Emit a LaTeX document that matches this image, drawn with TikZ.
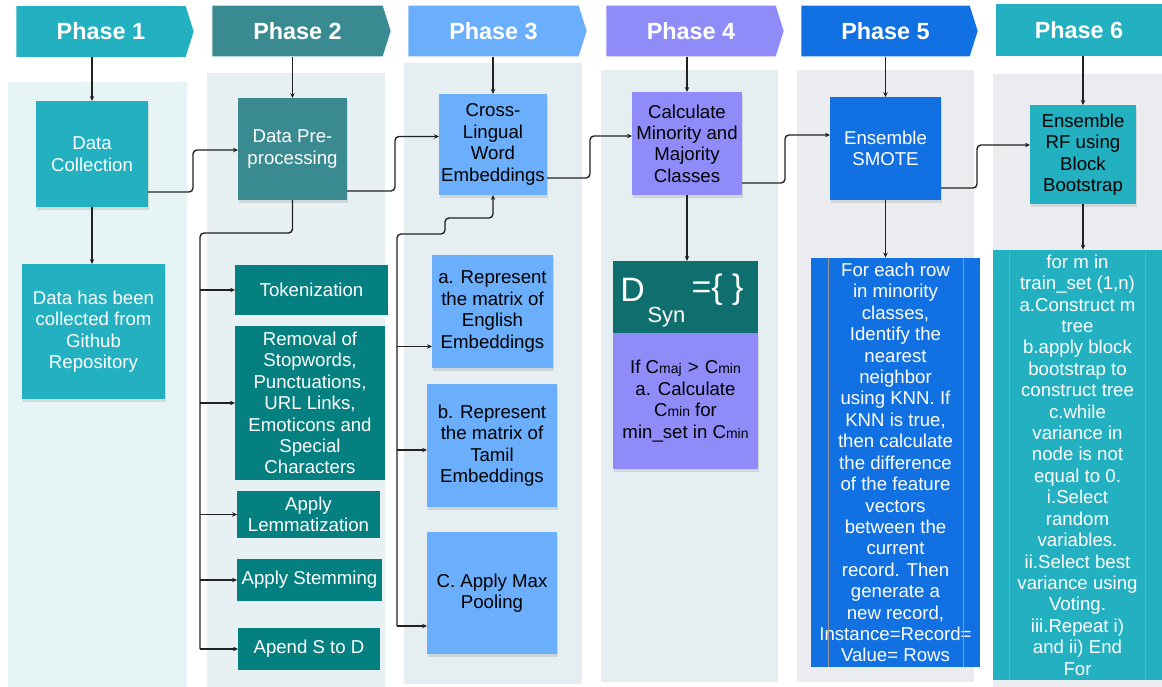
\documentclass[tikz,border=0pt]{standalone}
\usepackage{fontspec}
\setmainfont{Liberation Sans}
\usetikzlibrary{arrows.meta,shapes.symbols,shadows,calc}

% colours of the six phases
\definecolor{phaseA}{HTML}{23B0C0}
\definecolor{phaseB}{HTML}{3A8A91}
\definecolor{phaseC}{HTML}{6AAEFC}
\definecolor{phaseD}{HTML}{8F8CF9}
\definecolor{phaseE}{HTML}{1170E2}
\definecolor{stepteal}{HTML}{058080}
\definecolor{syngreen}{HTML}{0F6F6E}
\definecolor{panelA}{HTML}{E6F4F6}
\definecolor{panelB}{HTML}{E7F0F2}
\definecolor{panelC}{HTML}{E5EEF0}
\definecolor{panelD}{HTML}{EBECF0}
\definecolor{linkgray}{HTML}{222222}

\newcommand{\lowsub}[1]{{\fontsize{14}{16}\selectfont #1}}

\tikzset{
  header/.style={shape=signal, signal to=east, signal pointer angle=145,
    minimum height=51, inner sep=0pt, text=white,
    font=\fontsize{23.5}{26}\selectfont\bfseries},
  box/.style={rectangle, align=center, inner sep=1pt,
    font=\fontsize{18.7}{21.5}\selectfont,
    drop shadow={opacity=0.22, shadow xshift=1bp, shadow yshift=-3bp}},
  flat/.style={rectangle, align=center, inner sep=1pt,
    font=\fontsize{18.7}{21.5}\selectfont},
  link/.style={draw=linkgray, line width=1.4pt, rounded corners=4pt,
    -{Stealth[length=5pt,width=4.5pt]}},
  trunk/.style={draw=linkgray, line width=1.4pt, rounded corners=4pt},
}

\begin{document}
\begin{tikzpicture}[x=1bp, y=-1bp]
  \useasboundingbox (0,0) rectangle (1162,687);

  % column panels
  \fill[panelA] (8,82) rectangle (187,687);
  \fill[panelB] (207,73) rectangle (385,687);
  \fill[panelC] (404,63) rectangle (582,684);
  \fill[panelC] (601,70) rectangle (778,682);
  \fill[panelD] (797,70) rectangle (974,682);
  \fill[panelD] (993,74) rectangle (1162,687);

  % phase headers
  \node[header, fill=phaseA, minimum width=178] (p1) at (101,31.5) {Phase 1};
  \node[header, fill=phaseB, minimum width=179] (p2) at (297.5,31) {Phase 2};
  \node[header, fill=phaseC, minimum width=179] (p3) at (493.5,31) {Phase 3};
  \node[header, fill=phaseD, minimum width=178] (p4) at (691,31) {Phase 4};
  \node[header, fill=phaseE, minimum width=177] (p5) at (885.5,31) {Phase 5};
  \node[rectangle, fill=phaseA, minimum width=166, minimum height=52,
    inner sep=0pt, text=white, font=\fontsize{23.5}{26}\selectfont\bfseries]
    (p6) at (1079,30) {Phase 6};

  % main steps
  \node[box, fill=phaseA, text=white, minimum width=112, minimum height=106]
    (collect) at (92,154) {Data\\Collection};
  \node[box, fill=phaseB, text=white, minimum width=109, minimum height=102]
    (prep) at (292.5,149) {Data Pre-\\processing};
  \node[box, fill=phaseC, minimum width=108, minimum height=101]
    (cross) at (493,144.5) {Cross-\\Lingual\\Word\\Embeddings};
  \node[box, fill=phaseD, minimum width=110, minimum height=103]
    (calc) at (687,143.5) {Calculate\\Minority and\\Majority\\Classes};
  \node[box, fill=phaseE, text=white, minimum width=111, minimum height=103]
    (smote) at (885.5,148.5) {Ensemble\\SMOTE};
  \node[box, fill=phaseA, minimum width=106, minimum height=99]
    (forest) at (1083,154.5) {Ensemble\\RF using\\Block\\Bootstrap};

  % phase 1
  \node[box, fill=phaseA, text=white, minimum width=143, minimum height=135]
    (github) at (93.5,331.5) {Data has been\\collected from\\Github\\Repository};

  % phase 2
  \node[flat, fill=stepteal, text=white, minimum width=153, minimum height=50]
    (token) at (311.5,290) {Tokenization};
  \node[flat, fill=stepteal, text=white, minimum width=150, minimum height=154]
    (removal) at (310,403) {Removal of\\Stopwords,\\Punctuations,\\URL Links,\\Emoticons and\\Special\\Characters};
  \node[flat, fill=stepteal, text=white, minimum width=143, minimum height=47]
    (lemma) at (308.5,514.5) {Apply\\Lemmatization};
  \node[flat, fill=stepteal, text=white, minimum width=145, minimum height=42]
    (stem) at (309.5,580) {Apply Stemming};
  \node[flat, fill=stepteal, text=white, minimum width=142, minimum height=42]
    (append) at (309,649) {Apend S to D};

  % phase 3
  \node[box, fill=phaseC, minimum width=121, minimum height=113]
    (english) at (492.5,311.5) {a. Represent\\the matrix of\\English\\Embeddings};
  \node[box, fill=phaseC, minimum width=130, minimum height=123]
    (tamil) at (492,445.5) {b. Represent\\the matrix of\\Tamil\\Embeddings};
  \node[box, fill=phaseC, minimum width=130, minimum height=122]
    (pooling) at (492,593) {C. Apply Max\\Pooling};

  % phase 4
  \node[box, fill=phaseD, minimum width=145, minimum height=136]
    (cond) at (685.5,401) {If C\lowsub{maj}\,\,>\,\,C\lowsub{min}\\
      a. Calculate\\C\lowsub{min} for\\min\_set in C\lowsub{min}};
  \node[flat, fill=syngreen, minimum width=145, minimum height=72]
    (dsyn) at (685.5,297) {};
  \node[text=white, font=\fontsize{34}{36}\selectfont, inner sep=0pt]
    (dletter) at ($(dsyn.center)+(-53,-7)$) {D};
  \node[text=white, font=\fontsize{22}{24}\selectfont, inner sep=0pt]
    (dsub) at ($(dsyn.center)+(-19,20)$) {Syn};
  \node[text=white, font=\fontsize{34}{36}\selectfont, inner sep=0pt]
    (dset) at ($(dsyn.center)+(32,-7)$) {=\{ \}};

  % phase 5
  \node[flat, fill=phaseE, text=white, minimum width=169, minimum height=411]
    (knn) at (895.5,462.5) {For each row\\in minority\\classes,\\Identify the\\nearest\\neighbor\\using KNN. If\\KNN is true,\\then calculate\\the difference\\of the feature\\vectors\\between the\\current\\record. Then\\generate a\\new record,\\Instance=Record=\\Value= Rows};
  \draw[black!40] ([xshift=17bp]knn.north west) -- ([xshift=17bp]knn.south west);
  \draw[black!40] ([xshift=-17bp]knn.north east) -- ([xshift=-17bp]knn.south east);

  % phase 6
  \node[flat, fill=phaseA, text=white, minimum width=169, minimum height=432]
    (algo) at (1077.5,465) {for m in\\train\_set (1,n)\\a.Construct m\\tree\\b.apply block\\bootstrap to\\construct tree\\c.while\\variance in\\node is not\\equal to 0.\\i.Select\\random\\variables.\\ii.Select best\\variance using\\Voting.\\iii.Repeat i)\\and ii) End\\For};
  \draw[black!40] ([xshift=16bp]algo.north west) -- ([xshift=16bp]algo.south west);
  \draw[black!40] ([xshift=-17bp]algo.north east) -- ([xshift=-17bp]algo.south east);

  % headers into the phases
  \draw[link] (p1.south -| collect.north) -- (collect.north);
  \draw[link] (p2.south -| prep.north) -- (prep.north);
  \draw[link] (p3.south -| cross.north) -- (cross.north);
  \draw[link] (p4.south -| calc.north) -- (calc.north);
  \draw[link] (p5.south -| smote.north) -- (smote.north);
  \draw[link] (p6.south -| forest.north) -- (forest.north);

  % main flow
  \draw[link] ($(collect.east)+(0,38)$) -- ++(45,0) |- ($(prep.west)+(0,1)$);
  \draw[link] ($(prep.east)+(0,42)$) -- ++(48,0) |- ($(cross.west)+(0,-8)$);
  \draw[link] ($(cross.east)+(0,33.5)$) -- ++(43,0) |- ($(calc.west)+(0,-7.5)$);
  \draw[link] ($(calc.east)+(0,39.5)$) -- ++(43,0) |- ($(smote.west)+(0,-13.5)$);
  \draw[link] ($(smote.east)+(0,39.5)$) -- ++(36,0) |- ($(forest.west)+(0,-9.5)$);

  % downward steps
  \draw[link] (collect.south) -- (collect.south |- github.north);
  \draw[link] (calc.south) -- (calc.south |- dsyn.north);
  \draw[link] (smote.south) -- (smote.south |- knn.north);
  \draw[link] (forest.south) -- (forest.south |- algo.north);

  % phase 2 branches
  \coordinate (bus2) at (200,649);
  \draw[trunk] (prep.south) -- ++(0,33) -| (bus2);
  \draw[link] (token.west -| bus2) -- (token.west);
  \draw[link] (removal.west -| bus2) -- (removal.west);
  \draw[link] (lemma.west -| bus2) -- (lemma.west);
  \draw[link] (stem.west -| bus2) -- (stem.west);
  \draw[link] (bus2) -- (append.west);

  % phase 3 branches
  \coordinate (bus3) at (397,626);
  \coordinate (engin) at ($(english.west)+(0,35)$);
  \coordinate (tamin) at ($(tamil.west)+(0,4.5)$);
  \draw[link] (bus3) |- ($(cross.south)+(-48,39)$) |- ($(cross.south)+(0,23)$) -- (cross.south);
  \draw[link] (engin -| bus3) -- (engin);
  \draw[link] (tamin -| bus3) -- (tamin);
  \draw[link] (bus3) -- (bus3 -| pooling.west);
\end{tikzpicture}
\end{document}
